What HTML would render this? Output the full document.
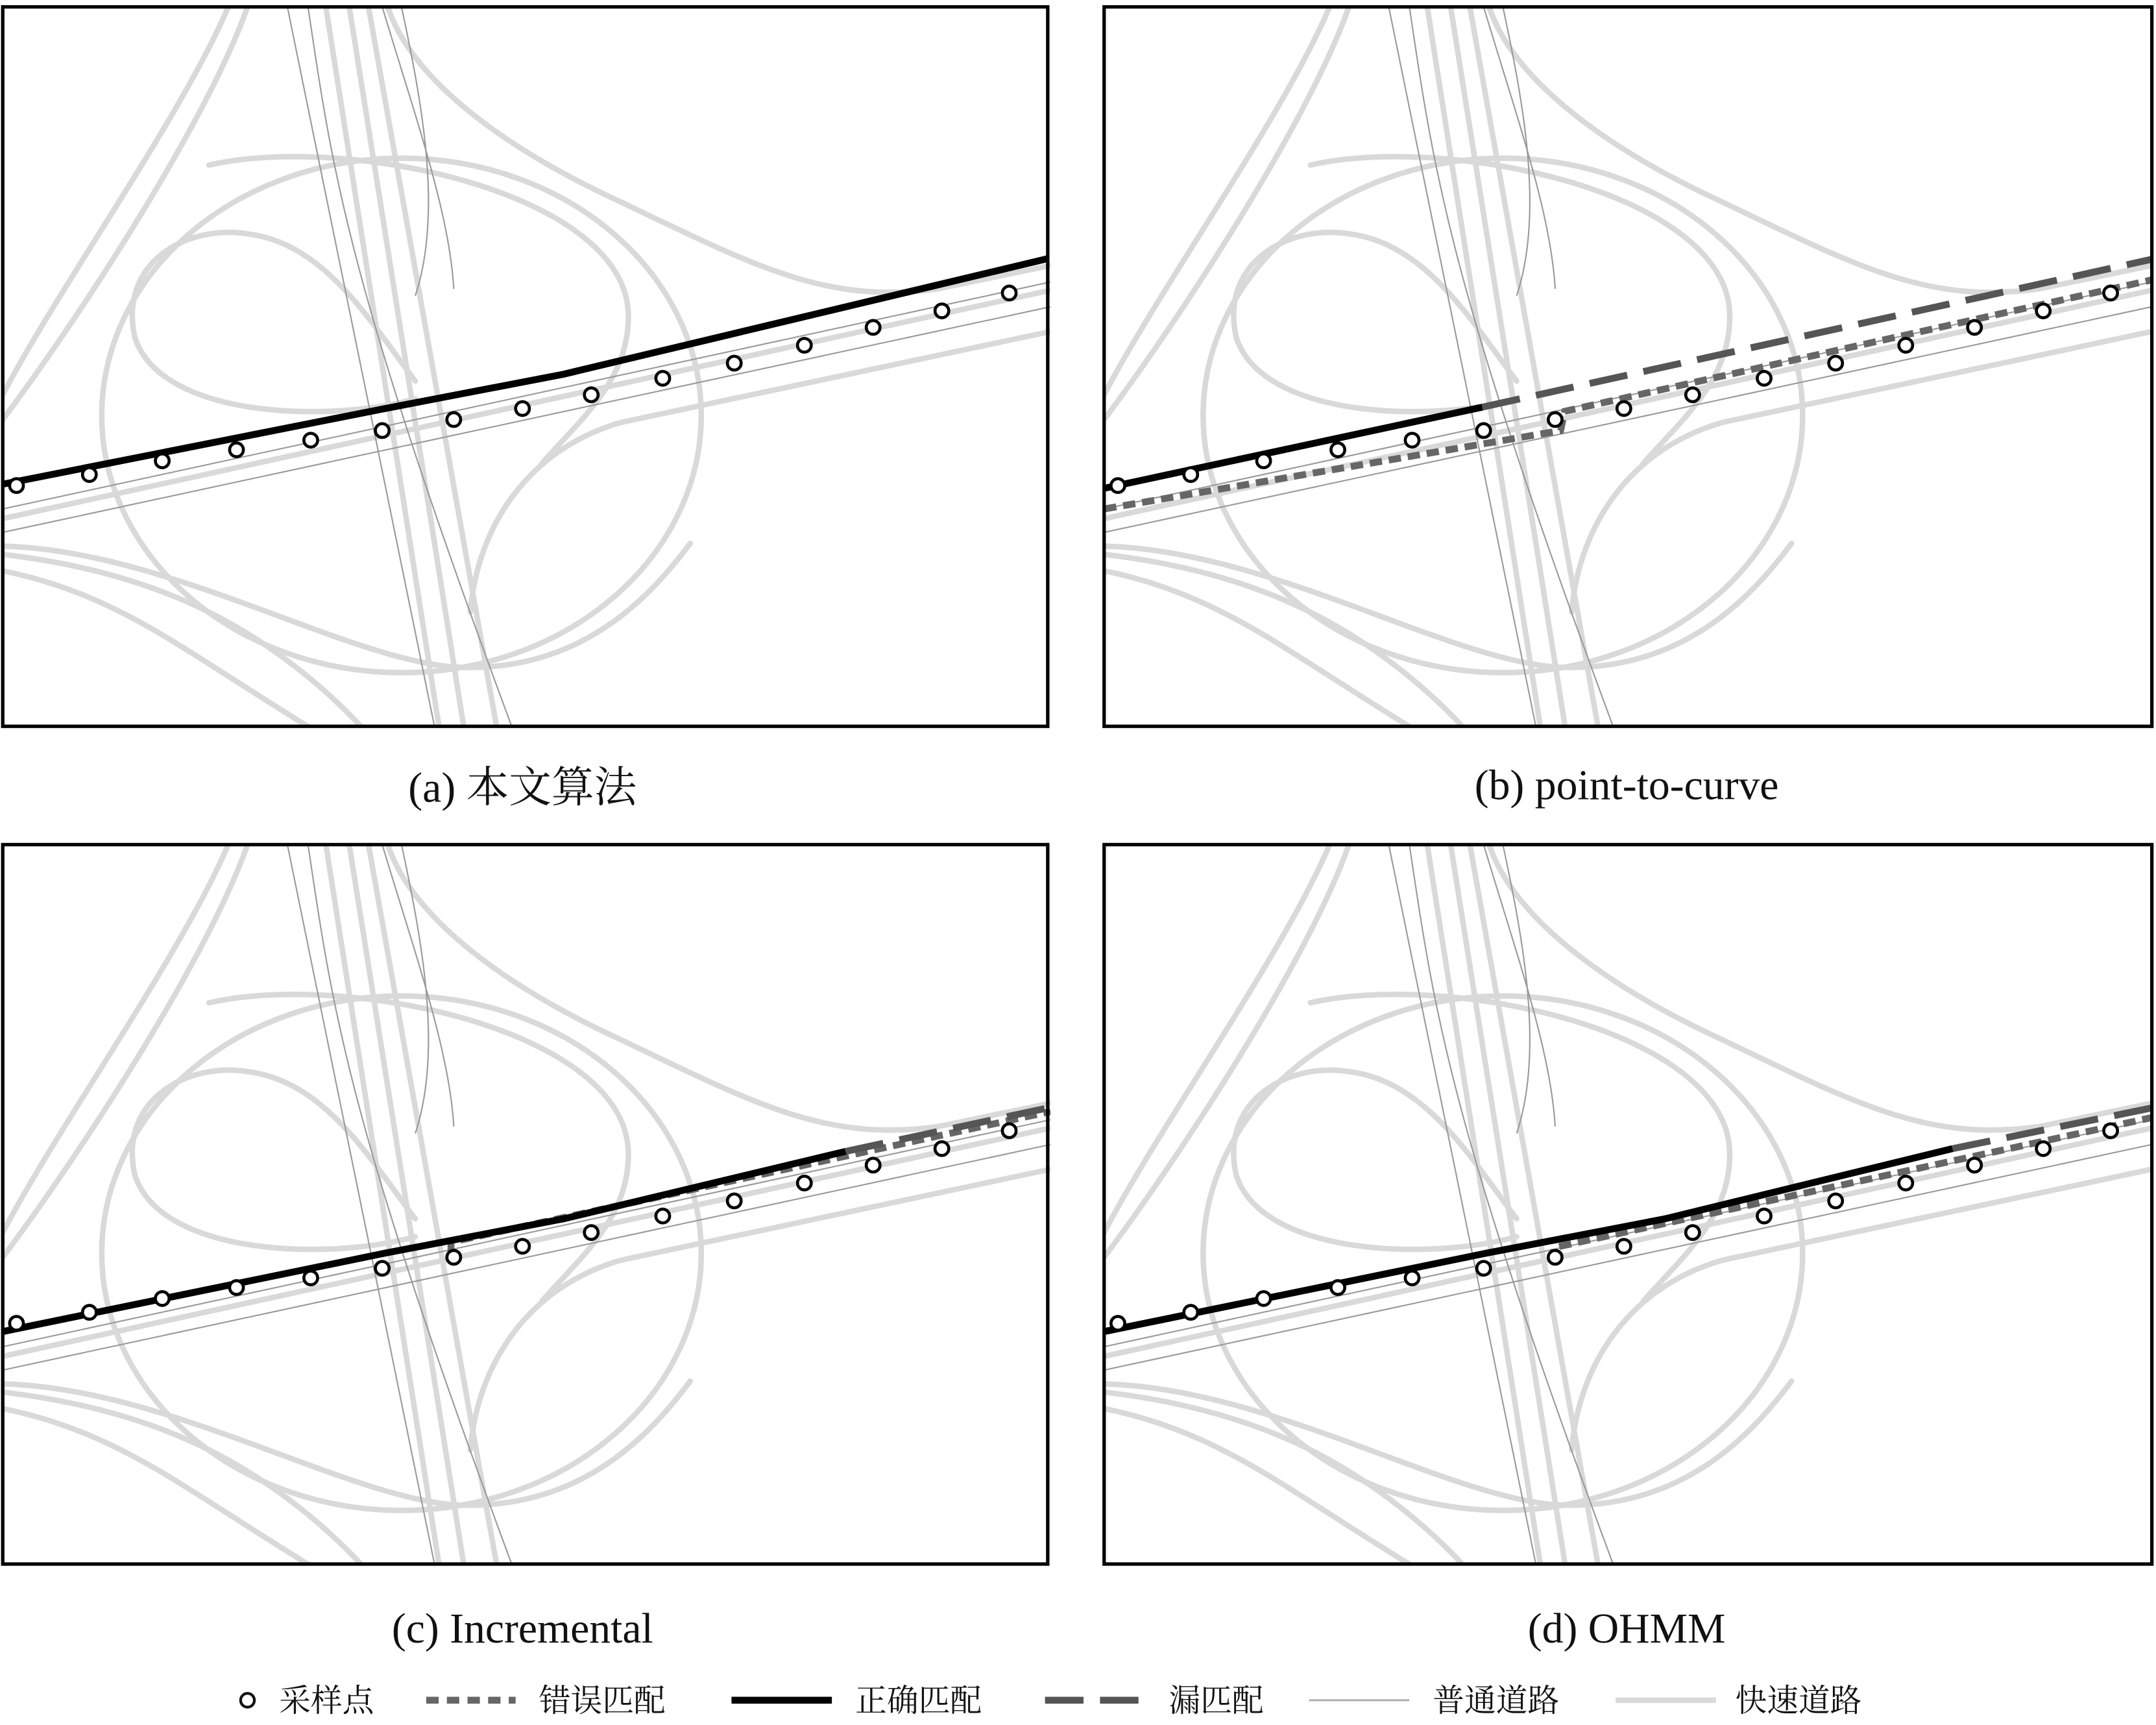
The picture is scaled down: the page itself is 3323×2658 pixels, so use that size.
<!DOCTYPE html>
<html><head><meta charset="utf-8">
<style>
html,body{margin:0;padding:0;background:#fff;}
svg{display:block;}
text{font-family:"Liberation Serif","Noto Serif CJK SC",serif;fill:#111;}
</style></head>
<body>
<svg id="fig" width="3323" height="2658" viewBox="0 0 1568 1254" preserveAspectRatio="none" xmlns="http://www.w3.org/2000/svg">
<defs>
<clipPath id="clip"><rect x="0" y="0" width="762" height="524"/></clipPath>
<g id="roads">
  <g fill="none" stroke="#d9d9d9" stroke-width="4" stroke-linecap="round">
    <ellipse cx="290" cy="297" rx="218" ry="187"/>
    <path d="M300 285 C240 302,115 300,96 240 C84 185,135 158,178 165 C235 172,268 230,300 272"/>
    <path d="M150 115 C250 92,455 135,455 225 C455 272,420 300,392 332"/>
    <path d="M178 0 C150 80,60 220,0 300"/>
    <path d="M164 0 C130 80,40 205,0 282"/>
    <path d="M280 0 C300 60,380 110,450 142 C550 190,600 216,680 205 L762 188"/>
    <path d="M340 440 C345 380,380 322,450 302 L762 236"/>
    <path d="M0 372 L762 206"/>
    <path d="M0 398 C60 405,110 420,150 440 C200 465,240 500,265 528"/>
    <path d="M0 410 C50 420,90 440,130 465 C170 490,200 510,230 528"/>
    <path d="M0 392 C120 395,250 475,330 480 C420 484,470 430,500 390"/>
    <path d="M235 0 L318 528"/>
    <path d="M252 0 L336 528"/>
    <path d="M266 0 L360 528"/>
  </g>
  <g fill="none" stroke="#9a9a9a" stroke-width="1">
    <path d="M207 0 L315 528"/>
    <path d="M222 0 C240 120,250 200,372 528"/>
    <path d="M276 0 C300 80,325 150,328 205"/>
    <path d="M290 0 C305 70,320 150,300 210"/>
    <path d="M0 382 L762 218"/>
    <path d="M0 365 L762 200"/>
  </g>
</g>
</defs>

<g id="panels"></g>

<g><text x="380" y="583" font-size="31" text-anchor="middle">(a) 本文算法</text></g>
<g><text x="1183" y="581" font-size="31" text-anchor="middle">(b) point-to-curve</text></g>
<g><text x="380" y="1194" font-size="31" text-anchor="middle">(c) Incremental</text></g>
<g><text x="1183" y="1194" font-size="31" text-anchor="middle">(d) OHMM</text></g>

<g font-size="23">
  <g>
    <circle cx="180" cy="1236" r="5" fill="#fff" stroke="#111" stroke-width="2"/>
    <text x="203" y="1244">采样点</text></g>
  <g>
    <line x1="310" y1="1236" x2="375" y2="1236" stroke="#666" stroke-width="5" stroke-dasharray="9 6"/>
    <text x="392" y="1244">错误匹配</text></g>
  <g>
    <line x1="532" y1="1236" x2="605" y2="1236" stroke="#000" stroke-width="5"/>
    <text x="622" y="1244">正确匹配</text></g>
  <g>
    <line x1="760" y1="1236" x2="835" y2="1236" stroke="#555" stroke-width="5" stroke-dasharray="28 12"/>
    <text x="850" y="1244">漏匹配</text></g>
  <g>
    <line x1="952" y1="1236" x2="1025" y2="1236" stroke="#b0b0b0" stroke-width="1.5"/>
    <text x="1042" y="1244">普通道路</text></g>
  <g>
    <line x1="1175" y1="1236" x2="1248" y2="1236" stroke="#d9d9d9" stroke-width="4"/>
    <text x="1262" y="1244">快速道路</text></g>
</g>
</svg>
<script>
// sample points (panel-local coordinates)
const sampleX = [10,63,116,170,224,276,328,378,428,480,532,583,633,683,732];
const sampleY = [348,340,330,322,315,308,300,292,282,270,259,246,233,221,208];
// panel origins
const panelNames = ['panel-a','panel-b','panel-c','panel-d'];
const panelX = [2,803,2,803];
const panelY = [5,5,614,614];
const panelW = [760,762,760,762];
const panelH = [523,523,523,523];
// matched paths per panel (local x,y pairs)
const correctA = [[0,347],[278,292],[408,267],[760,183]];
const correctB = [[0,350],[275,291]];
const missedB = [[275,291],[764,183]];
const wrongB = [[0,365],[332,308],[335,294],[764,198]];
const correctC = [[0,354],[278,297],[408,272],[613,223]];
const missedC = [[613,223],[762,191]];
const wrongC = [[326,296],[326,289],[762,194]];
const correctD = [[0,354],[278,297],[408,272],[617,221]];
const missedD = [[617,221],[764,191]];
const wrongD = [[327,303],[327,293],[764,198]];

const NS='http://www.w3.org/2000/svg';
const root=document.getElementById('panels');
const series=[
 {correct:correctA,missed:null,wrong:null},
 {correct:correctB,missed:missedB,wrong:wrongB},
 {correct:correctC,missed:missedC,wrong:wrongC},
 {correct:correctD,missed:missedD,wrong:wrongD}];
function pathD(pts){return pts.map((p,i)=>(i?'L':'M')+p[0]+' '+p[1]).join(' ');}
for(let i=0;i<4;i++){
  const g=document.createElementNS(NS,'g');
  
  
  g.setAttribute('transform','translate('+panelX[i]+','+panelY[i]+')');
  const inner=document.createElementNS(NS,'g');
  inner.setAttribute('clip-path','url(#clip)');
  const u=document.createElementNS(NS,'use');
  u.setAttribute('href','#roads');
  
  
  inner.appendChild(u);
  const s=series[i];
  function addLine(pts,stroke,w,dash,name){
    if(!pts)return;
    const p=document.createElementNS(NS,'path');
    p.setAttribute('d',pathD(pts));
    p.setAttribute('fill','none');p.setAttribute('stroke',stroke);
    p.setAttribute('stroke-width',w);
    if(dash)p.setAttribute('stroke-dasharray',dash);
    
    
    inner.appendChild(p);
  }
  addLine(s.wrong,'#666',5,'9 5','wrong-match-line');
  addLine(s.missed,'#555',5,'28 12','missed-match-line');
  addLine(s.correct,'#000',5,null,'correct-match-line');
  for(let k=0;k<sampleX.length;k++){
    const c=document.createElementNS(NS,'circle');
    c.setAttribute('cx',sampleX[k]);c.setAttribute('cy',sampleY[k]);c.setAttribute('r',5);
    c.setAttribute('fill','#fff');c.setAttribute('stroke','#000');c.setAttribute('stroke-width',2.2);
    
    
    inner.appendChild(c);
  }
  g.appendChild(inner);
  const f=document.createElementNS(NS,'rect');
  f.setAttribute('x',0);f.setAttribute('y',0);
  f.setAttribute('width',panelW[i]);f.setAttribute('height',panelH[i]);
  f.setAttribute('fill','none');f.setAttribute('stroke','#000');f.setAttribute('stroke-width',2.5);
  
  
  g.appendChild(f);
  root.appendChild(g);
}
</script>
</body></html>
